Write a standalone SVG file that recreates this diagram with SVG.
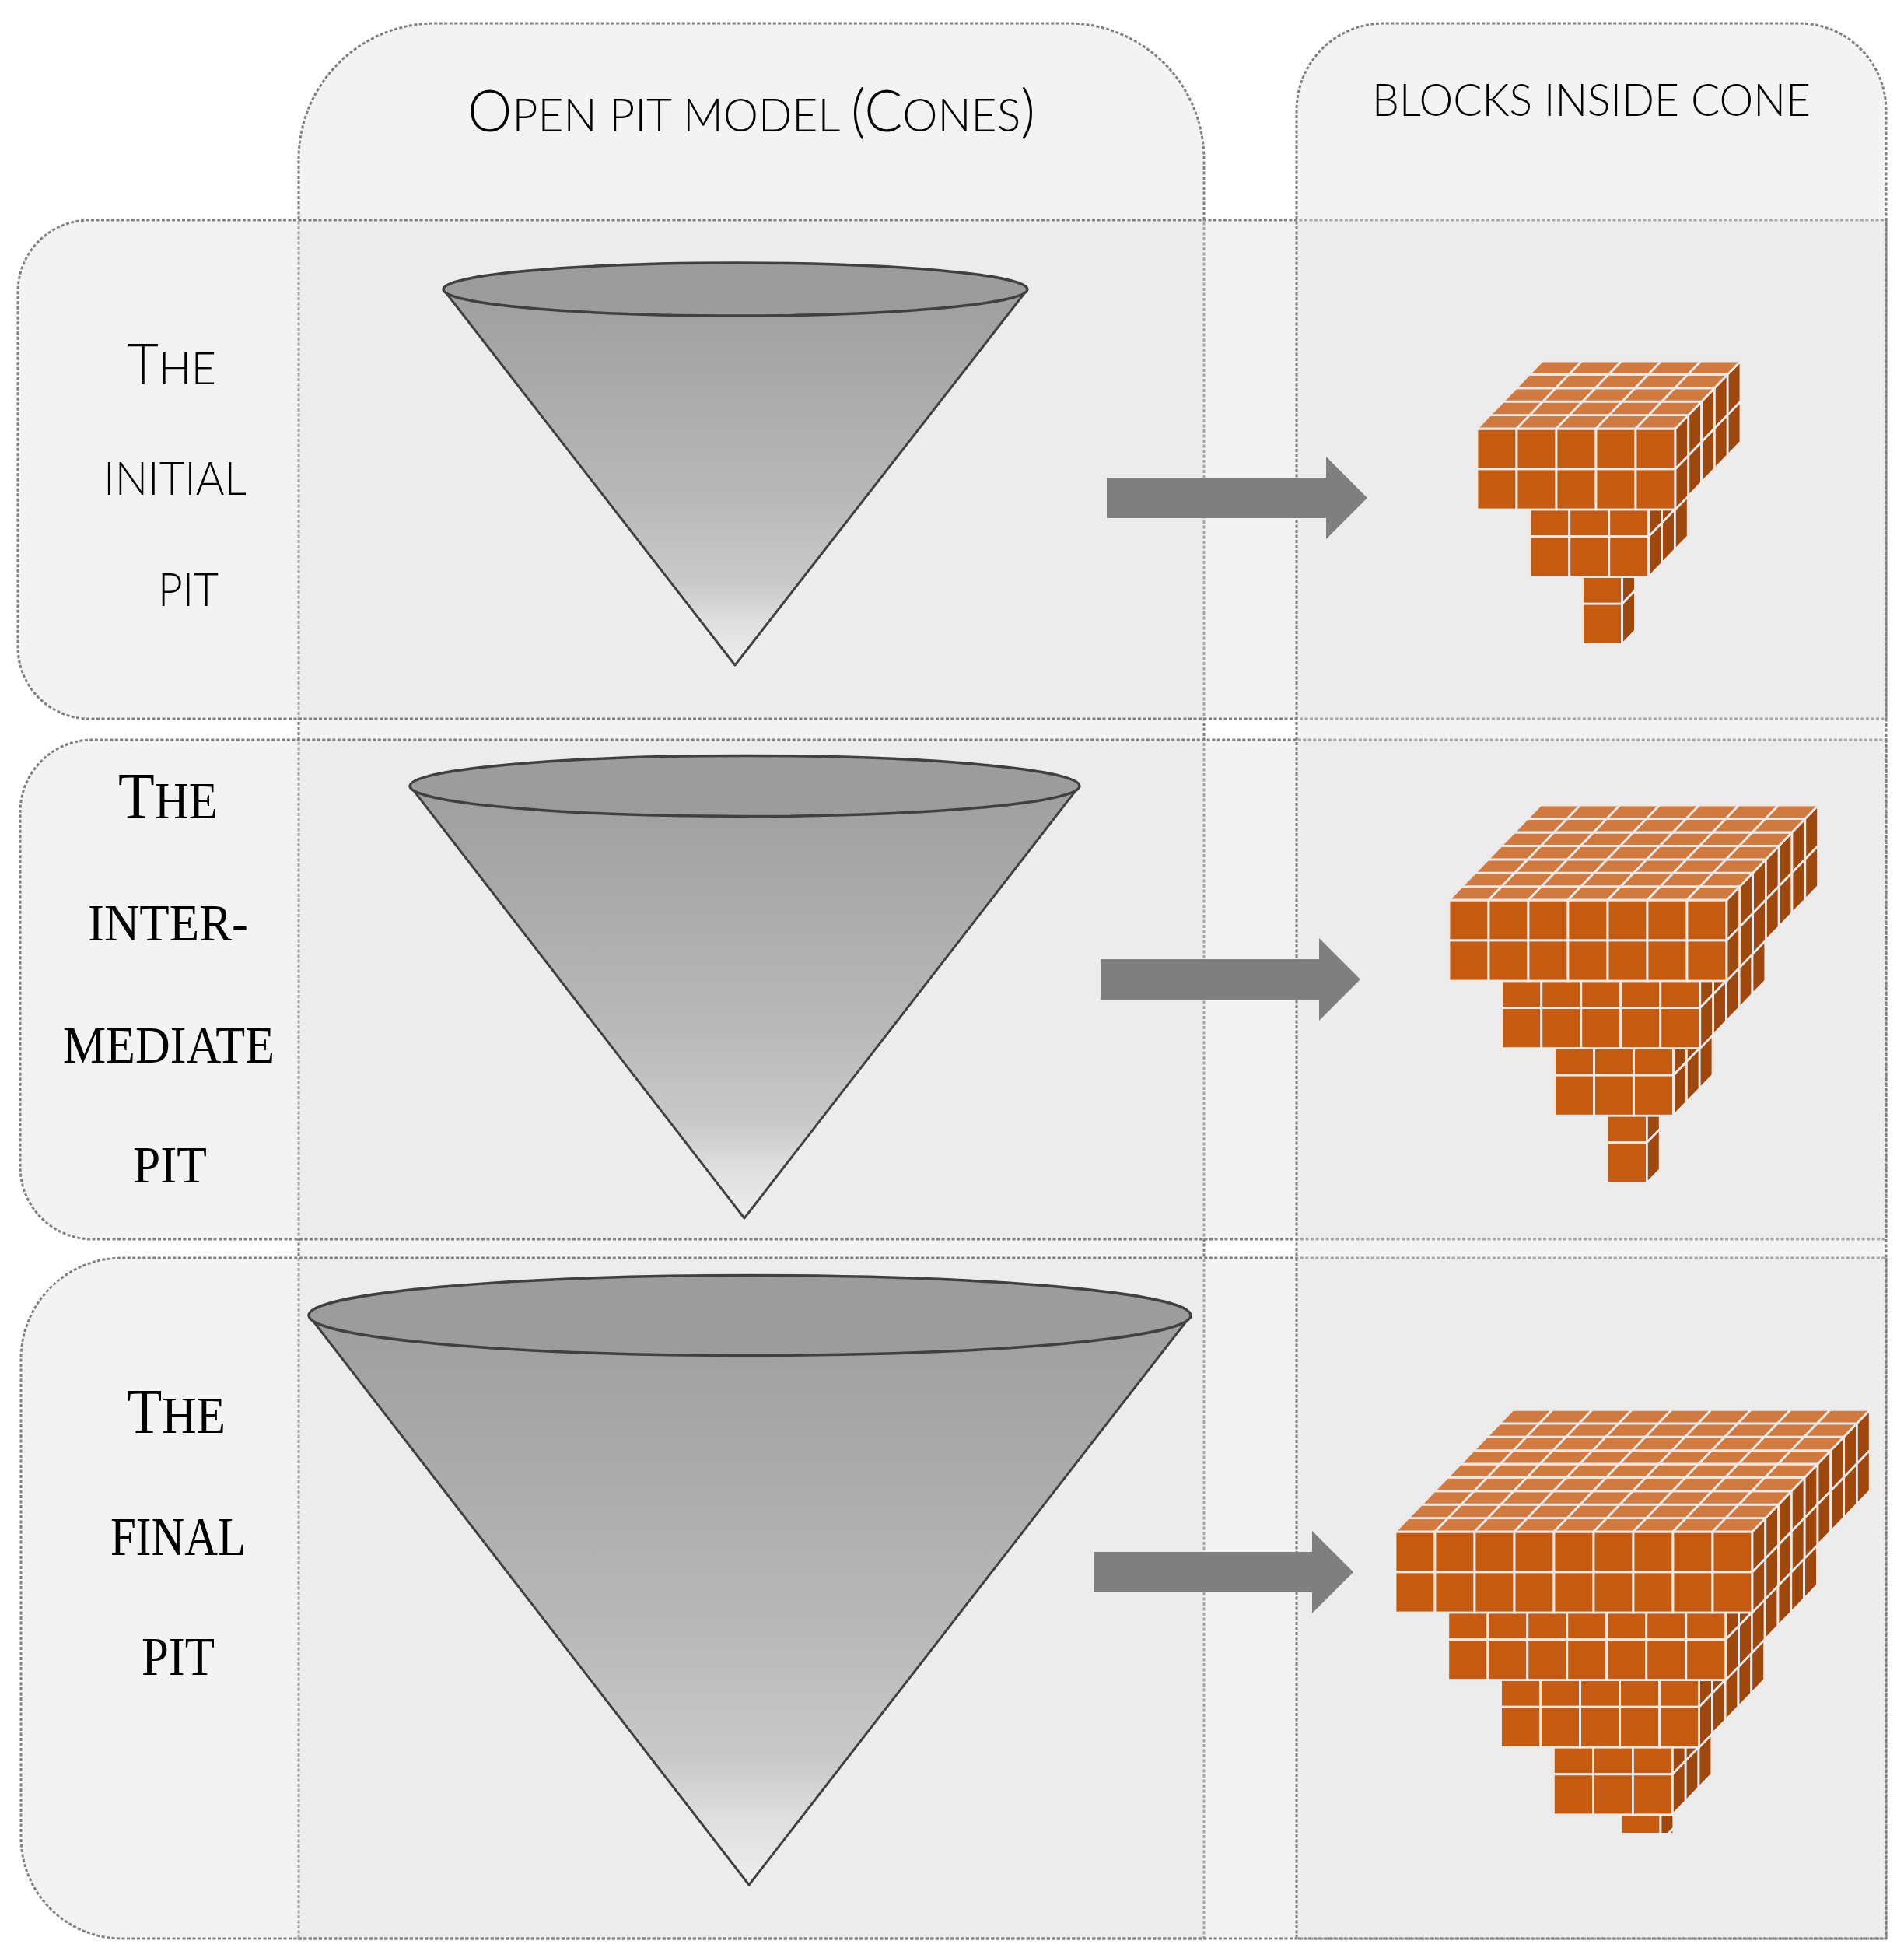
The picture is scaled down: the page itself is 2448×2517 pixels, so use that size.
<svg xmlns="http://www.w3.org/2000/svg" xmlns:xlink="http://www.w3.org/1999/xlink" width="2448" height="2517" viewBox="0 0 2448 2517">
<style>
.panel{fill:#e0e0e0;fill-opacity:0.4;stroke:#808080;stroke-width:3;stroke-dasharray:4 2.5;}
.sans{font-family:Lato,"Open Sans","Liberation Sans",sans-serif;font-weight:300;fill:#000;}
.serif{font-family:"Liberation Serif","DejaVu Serif",serif;fill:#000;}
.body{fill:url(#coneG);stroke:none;}
.edge{fill:none;stroke:#404040;stroke-width:3;stroke-linejoin:round;}
.rim{fill:#9c9c9c;stroke:#404040;stroke-width:3.5;}
.arrow{fill:#7f7f7f;stroke:none;}
</style>
<defs>
<linearGradient id="coneG" x1="0" y1="0" x2="0" y2="1">
<stop offset="0" stop-color="#9e9e9e"/>
<stop offset="0.55" stop-color="#b8b8b8"/>
<stop offset="0.78" stop-color="#c9c9c9"/>
<stop offset="0.88" stop-color="#dedede"/>
<stop offset="1" stop-color="#eeeeee"/>
</linearGradient>
<clipPath id="clipFinal"><rect x="1700" y="1700" width="750" height="656"/></clipPath>
<rect id="F" width="51" height="52" fill="#C55A11" stroke="#EAEAEA" stroke-width="2.8"/>
<polygon id="T" points="0,0 51,0 67.8,-17.4 16.8,-17.4" fill="#D17A3F" stroke="#EAEAEA" stroke-width="2.8" stroke-linejoin="round"/>
<polygon id="R" points="0,0 16.8,-17.4 16.8,34.6 0,52" fill="#9E480E" stroke="#EAEAEA" stroke-width="2.8" stroke-linejoin="round"/>
<g id="c2"><use href="#F"/><use href="#F" y="52"/></g>
<g id="s2"><use href="#R"/><use href="#R" y="52"/></g>
<g id="f3"><use href="#c2"/><use href="#c2" x="51"/><use href="#c2" x="102"/></g>
<g id="f5"><use href="#f3"/><use href="#c2" x="153"/><use href="#c2" x="204"/></g>
<g id="f7"><use href="#f5"/><use href="#c2" x="255"/><use href="#c2" x="306"/></g>
<g id="f9"><use href="#f7"/><use href="#c2" x="357"/><use href="#c2" x="408"/></g>
<g id="s3"><use href="#s2"/><use href="#s2" x="16.8" y="-17.4"/><use href="#s2" x="33.6" y="-34.8"/></g>
<g id="s5"><use href="#s3"/><use href="#s2" x="50.4" y="-52.2"/><use href="#s2" x="67.2" y="-69.6"/></g>
<g id="s7"><use href="#s5"/><use href="#s2" x="84" y="-87"/><use href="#s2" x="100.8" y="-104.4"/></g>
<g id="s9"><use href="#s7"/><use href="#s2" x="117.6" y="-121.8"/><use href="#s2" x="134.4" y="-139.2"/></g>
<g id="L1"><use href="#c2"/><use href="#s2" x="51"/></g>
<g id="L3"><use href="#f3"/><use href="#s3" x="153"/></g>
<g id="L5"><use href="#f5"/><use href="#s5" x="255"/></g>
<g id="L7"><use href="#f7"/><use href="#s7" x="357"/></g>
<g id="L9"><use href="#f9"/><use href="#s9" x="459"/></g>
<g id="t5"><use href="#T"/><use href="#T" x="51"/><use href="#T" x="102"/><use href="#T" x="153"/><use href="#T" x="204"/></g>
<g id="t7"><use href="#t5"/><use href="#T" x="255"/><use href="#T" x="306"/></g>
<g id="t9"><use href="#t7"/><use href="#T" x="357"/><use href="#T" x="408"/></g>
<g id="top5"><use href="#t5"/><use href="#t5" x="16.8" y="-17.4"/><use href="#t5" x="33.6" y="-34.8"/><use href="#t5" x="50.4" y="-52.2"/><use href="#t5" x="67.2" y="-69.6"/></g>
<g id="top7"><use href="#t7"/><use href="#t7" x="16.8" y="-17.4"/><use href="#t7" x="33.6" y="-34.8"/><use href="#t7" x="50.4" y="-52.2"/><use href="#t7" x="67.2" y="-69.6"/><use href="#t7" x="84" y="-87"/><use href="#t7" x="100.8" y="-104.4"/></g>
<g id="top9"><use href="#t9"/><use href="#t9" x="16.8" y="-17.4"/><use href="#t9" x="33.6" y="-34.8"/><use href="#t9" x="50.4" y="-52.2"/><use href="#t9" x="67.2" y="-69.6"/><use href="#t9" x="84" y="-87"/><use href="#t9" x="100.8" y="-104.4"/><use href="#t9" x="117.6" y="-121.8"/><use href="#t9" x="134.4" y="-139.2"/></g>
</defs>

<rect width="2448" height="2517" fill="#ffffff"/>

<g id="col-cones">
<path class="panel" d="M384,2492 V205 A175,175 0 0 1 559,30 H1373 A175,175 0 0 1 1548,205 V2492 Z"/>
</g>
<g id="row-initial">
<path class="panel" d="M2425,283 V924 H115 A92,92 0 0 1 23,832 V375 A92,92 0 0 1 115,283 Z"/>
</g>
<g id="row-intermediate">
<path class="panel" d="M2425,951 V1593 H119 A93,93 0 0 1 26,1500 V1044 A93,93 0 0 1 119,951 Z"/>
</g>
<g id="row-final">
<path class="panel" d="M2425,1617 V2492 H157 A130,130 0 0 1 27,2362 V1747 A130,130 0 0 1 157,1617 Z"/>
</g>
<g id="col-blocks">
<path class="panel" d="M1667,2492 V142 A112,112 0 0 1 1779,30 H2313 A112,112 0 0 1 2425,142 V2492 Z"/>
</g>

<g id="header-cones">
<text class="sans" x="601" y="169" textLength="730" lengthAdjust="spacingAndGlyphs"><tspan font-size="75">O</tspan><tspan font-size="59">PEN PIT MODEL </tspan><tspan font-size="75">(C</tspan><tspan font-size="59">ONES</tspan><tspan font-size="75">)</tspan></text>
</g>
<g id="header-blocks">
<text class="sans" x="1764" y="149" font-size="58" textLength="564" lengthAdjust="spacingAndGlyphs">BLOCKS INSIDE CONE</text>
</g>

<g id="label-initial">
<text class="sans" x="164" y="494" textLength="114" lengthAdjust="spacingAndGlyphs"><tspan font-size="72">T</tspan><tspan font-size="58">HE</tspan></text>
<text class="sans" x="133" y="636" font-size="59" textLength="184" lengthAdjust="spacingAndGlyphs">INITIAL</text>
<text class="sans" x="203" y="779" font-size="59" textLength="78" lengthAdjust="spacingAndGlyphs">PIT</text>
</g>
<g id="label-intermediate">
<text class="serif" x="152" y="1052" textLength="128" lengthAdjust="spacingAndGlyphs"><tspan font-size="84">T</tspan><tspan font-size="67">HE</tspan></text>
<text class="serif" x="113" y="1209" font-size="67" textLength="206" lengthAdjust="spacingAndGlyphs">INTER-</text>
<text class="serif" x="81" y="1366" font-size="67" textLength="272" lengthAdjust="spacingAndGlyphs">MEDIATE</text>
<text class="serif" x="171" y="1520" font-size="67" textLength="95" lengthAdjust="spacingAndGlyphs">PIT</text>
</g>
<g id="label-final">
<text class="serif" x="163" y="1842" textLength="127" lengthAdjust="spacingAndGlyphs"><tspan font-size="82">T</tspan><tspan font-size="68">HE</tspan></text>
<text class="serif" x="142" y="1999" font-size="69" textLength="174" lengthAdjust="spacingAndGlyphs">FINAL</text>
<text class="serif" x="182" y="2153" font-size="69" textLength="94" lengthAdjust="spacingAndGlyphs">PIT</text>
</g>

<g id="cone-initial">
<polygon class="body" points="570,372 945,855 1321,372"/>
<polyline class="edge" points="570,372 945,855 1321,372"/>
<ellipse class="rim" cx="945.5" cy="372" rx="375.5" ry="34"/>
</g>
<g id="cone-intermediate">
<polygon class="body" points="527,1010 957,1566 1388,1010"/>
<polyline class="edge" points="527,1010 957,1566 1388,1010"/>
<ellipse class="rim" cx="957.5" cy="1010.5" rx="430.5" ry="39"/>
</g>
<g id="cone-final">
<polygon class="body" points="397,1691 963,2423 1531,1691"/>
<polyline class="edge" points="397,1691 963,2423 1531,1691"/>
<ellipse class="rim" cx="964" cy="1691" rx="567" ry="51.5"/>
</g>

<g id="blocks-initial" transform="translate(1899,551)">
<use href="#L1" x="135.6" y="173.2"/>
<use href="#L3" x="67.8" y="86.6"/>
<use href="#L5"/>
<use href="#top5"/>
</g>
<g id="blocks-intermediate" transform="translate(1863,1157)">
<use href="#L1" x="203.4" y="259.8"/>
<use href="#L3" x="135.6" y="173.2"/>
<use href="#L5" x="67.8" y="86.6"/>
<use href="#L7"/>
<use href="#top7"/>
</g>
<g id="blocks-final" clip-path="url(#clipFinal)">
<g transform="translate(1794,1969)">
<use href="#L1" x="290" y="346.4"/>
<use href="#L3" x="203.4" y="259.8"/>
<use href="#L5" x="135.6" y="173.2"/>
<use href="#L7" x="67.8" y="86.6"/>
<use href="#L9"/>
<use href="#top9"/>
</g>
</g>

<g id="connectors">
<polygon class="arrow" points="1423,614 1705,614 1705,587 1758,640 1705,693 1705,666 1423,666"/>
<polygon class="arrow" points="1415,1233 1696,1233 1696,1206 1749,1259 1696,1312 1696,1285 1415,1285"/>
<polygon class="arrow" points="1406,1995 1687,1995 1687,1968 1740,2021 1687,2074 1687,2047 1406,2047"/>
</g>
</svg>
